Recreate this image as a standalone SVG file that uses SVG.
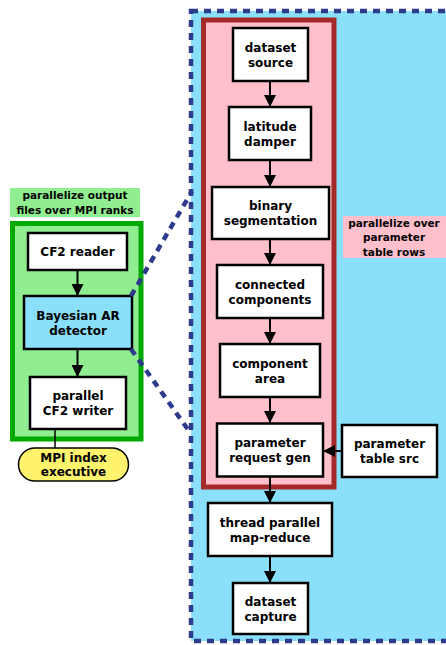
<svg xmlns="http://www.w3.org/2000/svg" width="446" height="645" viewBox="0 0 446 645">
<defs>
<style>
text{font-family:"DejaVu Sans","Liberation Sans",sans-serif;font-weight:bold;fill:#000;text-anchor:middle}
.t{font-size:12px}
.l{font-size:10.5px}
.box{fill:#fff;stroke:#000;stroke-width:2.5}
.edge{stroke:#000;stroke-width:2;fill:none}
.dash{stroke:#2e3a8c;stroke-width:4.5;stroke-dasharray:7,6;fill:none}
</style>
<marker id="ah" viewBox="0 0 12 12" refX="12" refY="6" markerWidth="12" markerHeight="12" markerUnits="userSpaceOnUse" orient="auto">
<path d="M0,0 L12,6 L0,12 Z" fill="#000"/>
</marker>
</defs>
<rect width="446" height="645" fill="#fff"/>
<g id="cluster_thread">
<rect x="191" y="11" width="262" height="630" class="dash" style="fill:#8ae0fb"/>
</g>
<g id="cluster_param">
<rect x="203.5" y="20" width="130.5" height="467" fill="#ffc0cb" stroke="#a52a2a" stroke-width="5"/>
<rect x="343" y="216" width="103" height="42" fill="#ffc0cb"/>
<text class="l" x="394" y="227">parallelize over</text>
<text class="l" x="394" y="241">parameter</text>
<text class="l" x="394" y="255.5">table rows</text>
</g>
<g id="cluster_mpi">
<rect x="10" y="188" width="130" height="29" fill="#90ee90"/>
<text class="l" x="75" y="199">parallelize output</text>
<text class="l" x="75" y="213.5">files over MPI ranks</text>
<rect x="12.5" y="223.5" width="128.5" height="215.5" fill="#90ee90" stroke="#00aa00" stroke-width="5"/>
</g>
<g id="connectors">
<line class="edge" x1="270" y1="81" x2="270" y2="107" marker-end="url(#ah)"/>
<line class="edge" x1="270" y1="160" x2="270" y2="187" marker-end="url(#ah)"/>
<line class="edge" x1="270" y1="239" x2="270" y2="265" marker-end="url(#ah)"/>
<line class="edge" x1="270" y1="318" x2="270" y2="344" marker-end="url(#ah)"/>
<line class="edge" x1="270" y1="397" x2="270" y2="423" marker-end="url(#ah)"/>
<line class="edge" x1="342" y1="451" x2="323" y2="451" marker-end="url(#ah)"/>
<line class="edge" x1="270" y1="476.5" x2="270" y2="503" marker-end="url(#ah)"/>
<line class="edge" x1="270" y1="556" x2="270" y2="583" marker-end="url(#ah)"/>
<line class="edge" x1="77.5" y1="270" x2="77.5" y2="296" marker-end="url(#ah)"/>
<line class="edge" x1="77.5" y1="349" x2="77.5" y2="377" marker-end="url(#ah)"/>
<line stroke="#000" stroke-width="1.5" x1="55" y1="429" x2="55" y2="448"/>
</g>
<g id="dataset_source"><rect class="box" x="233" y="28" width="75" height="53"/><text class="t" x="270.5" y="51.5">dataset</text><text class="t" x="270.5" y="66.5">source</text></g>
<g id="latitude_damper"><rect class="box" x="229" y="107" width="82" height="53"/><text class="t" x="270" y="130.5">latitude</text><text class="t" x="270" y="145.5">damper</text></g>
<g id="binary_segmentation"><rect class="box" x="212" y="187" width="117" height="52"/><text class="t" x="270.5" y="209.5">binary</text><text class="t" x="270.5" y="224.5">segmentation</text></g>
<g id="connected_components"><rect class="box" x="217" y="265" width="106" height="53"/><text class="t" x="270" y="288.5">connected</text><text class="t" x="270" y="303.5">components</text></g>
<g id="component_area"><rect class="box" x="220" y="344" width="100" height="53"/><text class="t" x="270" y="367.5">component</text><text class="t" x="270" y="382.5">area</text></g>
<g id="parameter_request_gen"><rect class="box" x="217" y="423.5" width="106" height="53"/><text class="t" x="270" y="447">parameter</text><text class="t" x="270" y="462">request gen</text></g>
<g id="parameter_table_src"><rect class="box" x="342" y="425" width="95" height="52"/><text class="t" x="389.5" y="447.5">parameter</text><text class="t" x="389.5" y="462.5">table src</text></g>
<g id="thread_parallel_map_reduce"><rect class="box" x="208" y="503" width="124" height="53"/><text class="t" x="270" y="526.5">thread parallel</text><text class="t" x="270" y="541.5">map-reduce</text></g>
<g id="dataset_capture"><rect class="box" x="233" y="583" width="75" height="51"/><text class="t" x="270.5" y="605.5">dataset</text><text class="t" x="270.5" y="620.5">capture</text></g>
<g id="cf2_reader"><rect class="box" x="28" y="233" width="99" height="37"/><text class="t" x="77.5" y="256">CF2 reader</text></g>
<g id="bayesian_ar_detector"><rect class="box" x="24" y="296" width="108" height="53" style="fill:#8ae0fb"/><text class="t" x="78" y="319.5">Bayesian AR</text><text class="t" x="78" y="334.5">detector</text></g>
<g id="parallel_cf2_writer"><rect class="box" x="30" y="377" width="96" height="52"/><text class="t" x="78" y="399.5">parallel</text><text class="t" x="78" y="414.5">CF2 writer</text></g>
<g id="mpi_index_executive"><rect x="18.5" y="448" width="110" height="33" rx="16.5" ry="16.5" fill="#fff36e" stroke="#000" stroke-width="1.5"/><text class="t" x="73.5" y="462">MPI index</text><text class="t" x="73.5" y="476">executive</text></g>
<g id="cluster_links">
<line class="dash" x1="131" y1="296" x2="192" y2="191"/>
<line class="dash" x1="131" y1="349" x2="189" y2="431"/>
</g>
</svg>
